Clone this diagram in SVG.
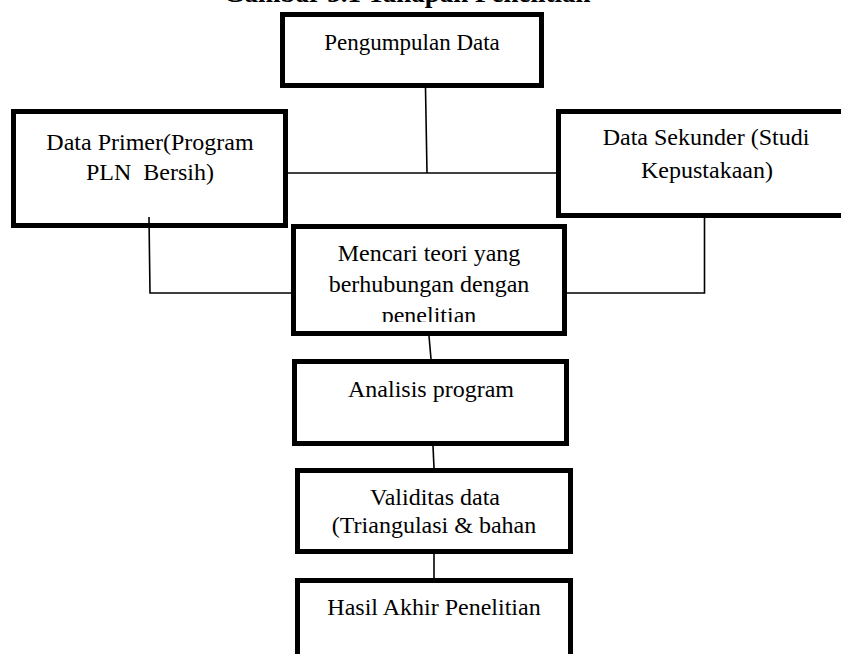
<svg xmlns="http://www.w3.org/2000/svg" width="841" height="654" viewBox="0 0 841 654">
  <style>
    .box { fill: #ffffff; stroke: #000000; stroke-width: 5; }
    .lbl { font-family: "Liberation Serif", "Times New Roman", serif; font-size: 24px; fill: #000000; text-anchor: middle; }
    .title { font-family: "Liberation Serif", "Times New Roman", serif; font-size: 27px; font-weight: bold; fill: #000000; text-anchor: middle; }
    .con { fill: none; stroke: #000000; stroke-width: 1.6; }
  </style>
  <defs>
    <clipPath id="clipMencari">
      <rect x="296" y="229" width="266" height="93"/>
    </clipPath>
  </defs>
  <rect x="0" y="0" width="841" height="654" fill="#ffffff"/>
  <text class="title" x="407" y="2">Gambar 3.1 Tahapan Penelitian</text>

  <g id="n-pengumpulan">
    <rect class="box" x="282.5" y="14.5" width="259" height="71"/>
    <text class="lbl" x="412" y="50" style="font-size:23px">Pengumpulan Data</text>
  </g>
  <g id="n-primer">
    <rect class="box" x="13.5" y="111.5" width="272" height="114"/>
    <text class="lbl" x="150" y="150">Data Primer(Program</text>
    <text class="lbl" x="150" y="180" xml:space="preserve">PLN  Bersih)</text>
  </g>
  <g id="n-sekunder">
    <rect class="box" x="558.5" y="111.5" width="290" height="104"/>
    <text class="lbl" x="706" y="145">Data Sekunder (Studi</text>
    <text class="lbl" x="707" y="178">Kepustakaan)</text>
  </g>
  <g id="n-mencari">
    <rect class="box" x="293.5" y="226.5" width="271" height="107"/>
    <g clip-path="url(#clipMencari)">
      <text class="lbl" x="429" y="261">Mencari teori yang</text>
      <text class="lbl" x="429" y="292">berhubungan dengan</text>
      <text class="lbl" x="429" y="323">penelitian</text>
    </g>
  </g>
  <g id="n-analisis">
    <rect class="box" x="294.5" y="361.5" width="272" height="82"/>
    <text class="lbl" x="431" y="397">Analisis program</text>
  </g>
  <g id="n-validitas">
    <rect class="box" x="297.5" y="470.5" width="273" height="81"/>
    <text class="lbl" x="435" y="505">Validitas data</text>
    <text class="lbl" x="434" y="533">(Triangulasi &amp; bahan</text>
  </g>
  <g id="n-hasil">
    <rect class="box" x="297.5" y="580.5" width="273" height="90"/>
    <text class="lbl" x="434" y="615">Hasil Akhir Penelitian</text>
  </g>

  <g id="connectors">
    <path class="con" d="M425.5 88 L427 173"/>
    <path class="con" d="M288 173 L557 173"/>
    <path class="con" d="M149 217 L150 293 L292 293"/>
    <path class="con" d="M704.5 218 L704.5 293 L567 293"/>
    <path class="con" d="M429 336 L431 359"/>
    <path class="con" d="M433 446 L434 468"/>
    <path class="con" d="M434 554 L434 578"/>
  </g>
</svg>
